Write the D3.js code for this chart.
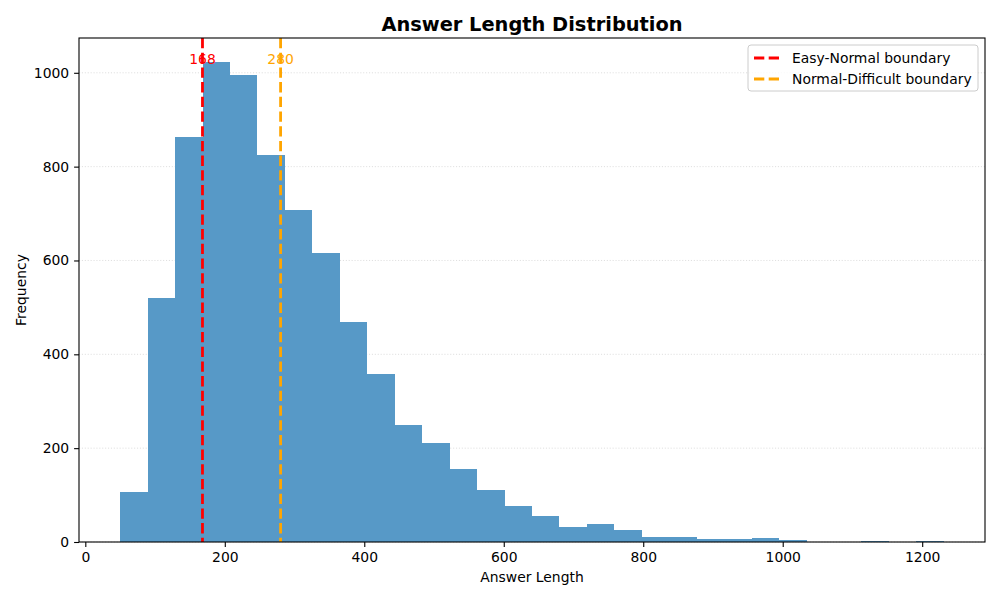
<!DOCTYPE html>
<html>
<head>
<meta charset="utf-8">
<script src="https://cdn.jsdelivr.net/npm/d3@7"></script>
<style>
  body { margin: 0; background: #fff; }
  svg { font-family: "DejaVu Sans", sans-serif; }
</style>
</head>
<body>
<svg id="chart" width="1000" height="600"></svg>
<script>
// histogram: 30 bins between min and max length
const binStart = 50;
const binEnd = 1231;
const counts = [106, 520, 863, 1023, 995, 825, 708, 616, 469, 358,
                249, 211, 156, 111, 77, 56, 32, 38, 26, 11,
                11, 6, 6, 9, 4, 0, 0, 2, 0, 2];
const xTicks = [0, 200, 400, 600, 800, 1000, 1200];
const yTicks = [0, 200, 400, 600, 800, 1000];
const boundaries = [
  { value: 168, label: "168", name: "Easy-Normal boundary", color: "red" },
  { value: 280, label: "280", name: "Normal-Difficult boundary", color: "orange" }
];

const svg = d3.select("#chart");
const plot = { left: 79, right: 985, top: 38, bottom: 542 };

const binW = (binEnd - binStart) / counts.length;
const bins = counts.map((c, i) => ({ x0: binStart + i * binW, x1: binStart + (i + 1) * binW, n: c }));

const span = binEnd - binStart;
const x = d3.scaleLinear()
  .domain([binStart - span * 0.05, binEnd + span * 0.05])
  .range([plot.left, plot.right]);
const y = d3.scaleLinear()
  .domain([0, d3.max(counts) * 1.05])
  .range([plot.bottom, plot.top]);

// grid (below bars)
svg.append("g")
  .selectAll("line")
  .data(yTicks)
  .join("line")
  .attr("x1", plot.left).attr("x2", plot.right)
  .attr("y1", d => y(d)).attr("y2", d => y(d))
  .attr("stroke", "#b0b0b0")
  .attr("stroke-opacity", 0.5)
  .attr("stroke-width", 0.8)
  .attr("stroke-dasharray", "1.1,1.8");

// bars (#1f77b4 at alpha .75 over white)
svg.append("g")
  .attr("shape-rendering", "crispEdges")
  .selectAll("rect")
  .data(bins)
  .join("rect")
  .attr("x", d => x(d.x0))
  .attr("width", d => x(d.x1) - x(d.x0))
  .attr("y", d => y(d.n))
  .attr("height", d => y(0) - y(d.n))
  .attr("fill", "rgb(87,153,199)");

// boundary labels + lines
svg.append("g")
  .selectAll("text")
  .data(boundaries)
  .join("text")
  .attr("x", d => x(d.value))
  .attr("y", 64)
  .attr("text-anchor", "middle")
  .attr("fill", d => d.color)
  .style("font-size", "13.9px")
  .text(d => d.label);

svg.append("g")
  .selectAll("line")
  .data(boundaries)
  .join("line")
  .attr("x1", d => x(d.value)).attr("x2", d => x(d.value))
  .attr("y1", plot.top).attr("y2", plot.bottom)
  .attr("stroke", d => d.color)
  .attr("stroke-width", 2.8)
  .attr("stroke-dasharray", "10.3,4.4");

// axes
const fmt = d3.format("d");
const xAxis = svg.append("g")
  .attr("transform", `translate(0,${plot.bottom})`)
  .call(d3.axisBottom(x).tickValues(xTicks).tickFormat(fmt).tickSize(4.9).tickPadding(4.9));
const yAxis = svg.append("g")
  .attr("transform", `translate(${plot.left},0)`)
  .call(d3.axisLeft(y).tickValues(yTicks).tickFormat(fmt).tickSize(4.9).tickPadding(4.9));
[xAxis, yAxis].forEach(a => {
  a.select(".domain").remove();
  a.selectAll("line").attr("stroke", "#000").attr("stroke-width", 1.1);
  a.selectAll("text").attr("fill", "#000").style("font-size", "13.9px")
    .attr("font-family", "DejaVu Sans");
});

// frame
svg.append("rect")
  .attr("x", plot.left).attr("y", plot.top)
  .attr("width", plot.right - plot.left).attr("height", plot.bottom - plot.top)
  .attr("fill", "none").attr("stroke", "#000").attr("stroke-width", 1.1);

// labels
svg.append("text")
  .attr("x", (plot.left + plot.right) / 2).attr("y", 31)
  .attr("text-anchor", "middle")
  .style("font-size", "19.4px").style("font-weight", "bold")
  .text("Answer Length Distribution");
svg.append("text")
  .attr("x", (plot.left + plot.right) / 2).attr("y", 582)
  .attr("text-anchor", "middle")
  .style("font-size", "13.9px")
  .text("Answer Length");
svg.append("text")
  .attr("transform", `translate(26,${(plot.top + plot.bottom) / 2}) rotate(-90)`)
  .attr("text-anchor", "middle")
  .style("font-size", "13.9px")
  .text("Frequency");

// legend
const lg = svg.append("g").attr("transform", "translate(748,45)");
lg.append("rect")
  .attr("width", 230).attr("height", 46).attr("rx", 3)
  .attr("fill", "#fff").attr("fill-opacity", 0.8)
  .attr("stroke", "#ccc").attr("stroke-width", 1);
const item = lg.selectAll("g.item")
  .data(boundaries)
  .join("g")
  .attr("class", "item")
  .attr("transform", (d, i) => `translate(0,${13 + i * 21})`);
item.append("line")
  .attr("x1", 6).attr("x2", 34)
  .attr("stroke", d => d.color)
  .attr("stroke-width", 2.8)
  .attr("stroke-dasharray", "10.3,4.4");
item.append("text")
  .attr("x", 44).attr("y", 5)
  .style("font-size", "13.9px")
  .text(d => d.name);
</script>
</body>
</html>
